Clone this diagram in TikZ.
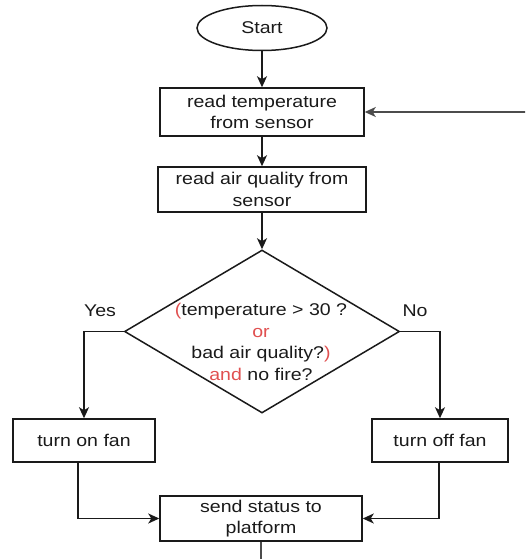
\documentclass[tikz,border=0pt]{standalone}
\usepackage{fontspec}
\setmainfont[FakeStretch=1.15]{Liberation Sans}
\usetikzlibrary{shapes.geometric,arrows.meta}
\definecolor{ink}{HTML}{1A1A1A}
\definecolor{hot}{HTML}{E05050}
\begin{document}
\begin{tikzpicture}[x=1pt,y=-1pt,
  every node/.style={font=\fontsize{17}{21.5}\selectfont, text=ink},
  stepbox/.style={draw=ink, line width=1.5pt, rectangle, align=center, inner sep=0pt},
  flow/.style={draw=ink, line width=1.5pt, -{Stealth[length=11pt,width=10pt,inset=3pt]}},
  loopline/.style={draw=black!70, line width=1.5pt, -{Stealth[length=11pt,width=10pt,inset=3pt]}}]
\useasboundingbox (0,0) rectangle (525,559);
\clip (0,0) rectangle (525,559);

% process steps
\node[draw=ink, line width=1.5pt, ellipse, minimum width=130pt, minimum height=45pt, inner sep=0pt] (start) at (262,28) {Start};
\node[stepbox, minimum width=204pt, minimum height=48pt] (temp) at (262,112) {read temperature\\from sensor};
\node[stepbox, minimum width=208pt, minimum height=45pt] (air) at (262,189.5) {read air quality from\\sensor};
\node[draw=ink, line width=1.5pt, diamond, minimum width=275pt, minimum height=163pt, inner sep=0pt] (dec) at (262,331.5) {};
\node[align=center] (dectext) at (261,342) {\textcolor{hot}{(}temperature > 30 ?\\\textcolor{hot}{or}\\bad air quality?\textcolor{hot}{)}\\\textcolor{hot}{and} no fire?};
\node (yes) at (100,311) {Yes};
\node (no) at (415,311) {No};
\node[stepbox, minimum width=142pt, minimum height=43pt] (on) at (84,440.5) {turn on fan};
\node[stepbox, minimum width=136pt, minimum height=43pt] (off) at (440,440.5) {turn off fan};
\node[stepbox, minimum width=202pt, minimum height=45pt] (send) at (261,518.5) {send status to\\platform};

% connectors
\draw[flow] (start) -- (temp);
\draw[flow] (temp) -- (air);
\draw[flow] (air) -- (dec.north);
\draw[flow] (dec.west) -| (on.north);
\draw[flow] (dec.east) -| (off.north);
\draw[flow] ([xshift=-6pt]on.south) |- (send.west);
\draw[flow] ([xshift=-1pt]off.south) |- (send.east);
\coordinate (turnbelow) at (261,561);
\coordinate (turnright) at (540,561);
\draw[loopline] (send.south) -- (turnbelow) -- (turnright) |- (temp.east);
\end{tikzpicture}
\end{document}
